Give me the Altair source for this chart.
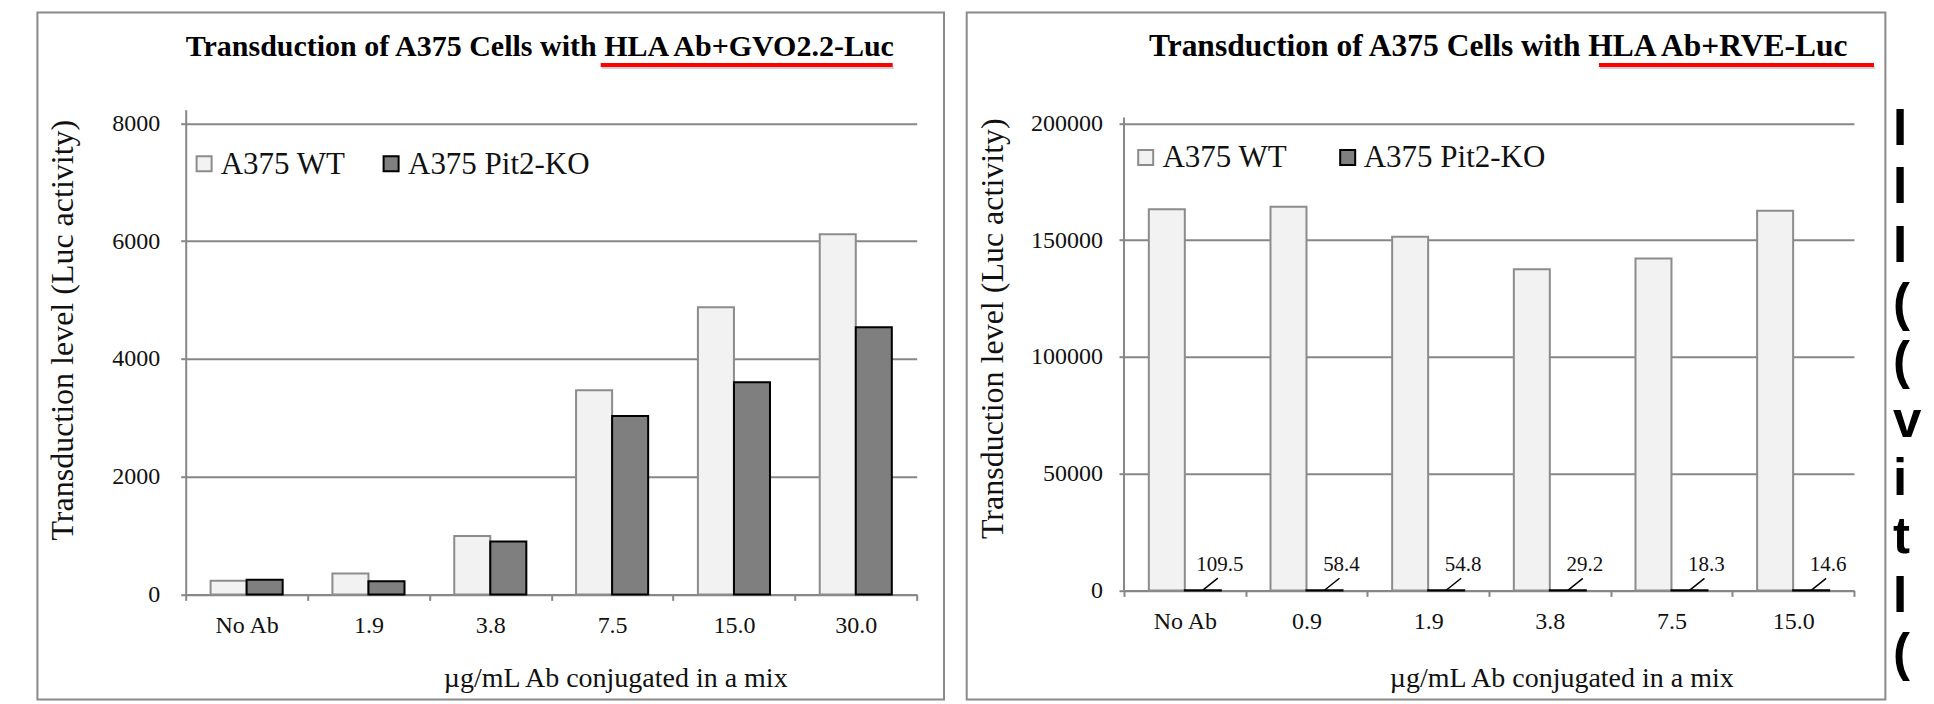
import altair as alt
import pandas as pd

# ---------------- data ----------------
series = ["A375 WT", "A375 Pit2-KO"]

left_categories = ["No Ab", "1.9", "3.8", "7.5", "15.0", "30.0"]
left_wt = [230, 355, 990, 3465, 4875, 6115]
left_ko = [250, 225, 900, 3030, 3605, 4535]
left_y_ticks = [0, 2000, 4000, 6000, 8000]

right_categories = ["No Ab", "0.9", "1.9", "3.8", "7.5", "15.0"]
right_wt = [163200, 164300, 151500, 137500, 142100, 162600]
right_ko = [109.5, 58.4, 54.8, 29.2, 18.3, 14.6]
right_y_ticks = [0, 50000, 100000, 150000, 200000]

left_title = "Transduction of A375 Cells with HLA Ab+GVO2.2-Luc"
right_title = "Transduction of A375 Cells with HLA Ab+RVE-Luc"
y_title = "Transduction level (Luc activity)"
x_title = "µg/mL Ab conjugated in a mix"
edge_fragments = ["I", "I", "I", "(", "(", "v", "i", "t", "I", "("]

# ---------------- styles ----------------
SERIF = "Liberation Serif"
GRID = "#878787"
WT_FILL, WT_STROKE = "#f2f2f2", "#8c8c8c"
KO_FILL, KO_STROKE = "#7f7f7f", "#000000"
TXT = "#111111"


def panel(cats, wt, ko, yticks, ymax, width, height, title, frame, underline,
          title_x, title_size, x_title_pos, y_title_pos, ylab_pad, legend_layout,
          show_labels=False, axis_top=None, extra_text=None):
    df = pd.DataFrame({
        "category": cats * 2,
        "series": [series[0]] * len(cats) + [series[1]] * len(cats),
        "value": wt + ko,
    })
    x_enc = alt.X(
        "category:N", sort=cats,
        scale=alt.Scale(paddingInner=0, paddingOuter=0),
        axis=alt.Axis(
            title=x_title, titleFont=SERIF, titleFontSize=28, titleFontWeight="normal",
            titleColor=TXT, titleX=x_title_pos[0], titleY=x_title_pos[1],
            titleAlign="center", titleBaseline="alphabetic",
            labelAngle=0, labelFont=SERIF, labelFontSize=24, labelColor=TXT,
            labelPadding=32, labelBaseline="alphabetic",
            tickBand="extent", tickSize=6, tickWidth=2, tickColor=GRID,
            domainColor=GRID, domainWidth=2, grid=False,
        ),
    )
    xo_enc = alt.XOffset("series:N", sort=series,
                         scale=alt.Scale(paddingInner=0, paddingOuter=0.69))
    y_enc = alt.Y(
        "value:Q",
        scale=alt.Scale(domain=[0, ymax], nice=False, zero=True),
        axis=alt.Axis(
            values=yticks, format="d",
            title=y_title, titleFont=SERIF, titleFontSize=32, titleFontWeight="normal",
            titleColor=TXT, titleX=y_title_pos[0], titleY=y_title_pos[1],
            titleAlign="center", titleBaseline="alphabetic", titleAngle=270,
            labelFont=SERIF, labelFontSize=24, labelColor=TXT, labelPadding=ylab_pad,
            tickSize=5, tickWidth=2, tickColor=GRID,
            domain=axis_top is None, domainColor=GRID, domainWidth=2,
            grid=True, gridColor=GRID, gridWidth=2,
        ),
    )
    fill_enc = alt.Fill("series:N", sort=series,
                        scale=alt.Scale(domain=series, range=[WT_FILL, KO_FILL]), legend=None)
    stroke_enc = alt.Stroke("series:N", sort=series,
                            scale=alt.Scale(domain=series, range=[WT_STROKE, KO_STROKE]), legend=None)
    bars = alt.Chart(df).mark_bar(strokeWidth=2).encode(
        x=x_enc, xOffset=xo_enc, y=y_enc, fill=fill_enc, stroke=stroke_enc,
    )

    one = alt.Data(values=[{}])
    frame_layer = alt.Chart(one).mark_rect(fillOpacity=0, stroke="#8a8a8a", strokeWidth=2).encode(
        x=alt.value(frame[0]), x2=alt.value(frame[1]),
        y=alt.value(frame[2]), y2=alt.value(frame[3]),
    )
    title_layer = alt.Chart(one).mark_text(
        align="left", baseline="alphabetic", font=SERIF, fontSize=title_size,
        fontWeight="bold", color="black", text=title,
    ).encode(x=alt.value(title_x), y=alt.value(-54))
    shadow_layer = alt.Chart(one).mark_rule(color="#b0b0b0", strokeWidth=3, opacity=0.6).encode(
        x=alt.value(underline[0] + 1), x2=alt.value(underline[1] + 1), y=alt.value(underline[2] + 2.5),
    )
    red_layer = alt.Chart(one).mark_rule(color="#ff0000", strokeWidth=4).encode(
        x=alt.value(underline[0]), x2=alt.value(underline[1]), y=alt.value(underline[2]),
    )
    layers = [frame_layer, bars]
    if axis_top is not None:
        layers.append(alt.Chart(one).mark_rule(color=GRID, strokeWidth=2).encode(
            x=alt.value(0), y=alt.value(axis_top), y2=alt.value(height)))
    if show_labels:
        kdf = df[df["series"] == series[1]]
        leaders = alt.Chart(kdf).mark_point(
            shape="M0,0L1,-0.8", size=900, filled=False, color="black",
            strokeWidth=1.5, opacity=1,
        ).encode(x=alt.X("category:N", sort=cats), xOffset=alt.XOffset("series:N", sort=series),
                 y="value:Q")
        labels = alt.Chart(kdf).mark_text(
            dx=17, dy=-19.5, align="center", baseline="alphabetic", font=SERIF,
            fontSize=21, color=TXT,
        ).encode(x=alt.X("category:N", sort=cats), xOffset=alt.XOffset("series:N", sort=series),
                 y="value:Q", text=alt.Text("value:Q", format=".1f"))
        layers += [leaders, labels]

    # legend (symbol + label for each series)
    sym_xs, lab_xs, sym_y, lab_y = legend_layout
    for i, s in enumerate(series):
        entry = alt.Data(values=[{"series": s}])
        layers.append(alt.Chart(entry).mark_point(
            shape="square", size=225, filled=True, strokeWidth=2, opacity=1,
        ).encode(x=alt.value(sym_xs[i]), y=alt.value(sym_y), fill=fill_enc, stroke=stroke_enc))
        layers.append(alt.Chart(entry).mark_text(
            align="left", baseline="alphabetic", font=SERIF, fontSize=31, color=TXT,
        ).encode(x=alt.value(lab_xs[i]), y=alt.value(lab_y), text="series:N"))

    layers += [title_layer, shadow_layer, red_layer]
    if extra_text is not None:
        layers.append(alt.Chart(one).mark_text(
            align="left", baseline="alphabetic", font="Liberation Sans", fontSize=51,
            fontWeight="bold", color="black", lineHeight=58.3, text=extra_text[2],
        ).encode(x=alt.value(extra_text[0]), y=alt.value(extra_text[1])))
    return alt.layer(*layers).properties(width=width, height=height)


left = panel(
    left_categories, left_wt, left_ko, left_y_ticks, ymax=8232, width=731, height=484.7,
    title=left_title, frame=(-148.3, 758.3, -97.3, 589.7), underline=(415, 707, -44.7),
    title_x=0, title_size=30, x_title_pos=(429.5, 92.6), y_title_pos=(-113.3, 220),
    ylab_pad=21, legend_layout=((18.4, 205.4), (35, 222.3), 54, 64.3),
)
right = panel(
    right_categories, right_wt, right_ko, right_y_ticks, ymax=205867, width=730, height=480.7,
    title=right_title, frame=(-157.3, 761.4, -97.3, 589.7), underline=(475, 750, -44.7),
    title_x=25, title_size=31.5, x_title_pos=(437.3, 96.6), y_title_pos=(-121.6, 218.5),
    ylab_pad=16.6, legend_layout=((21.7, 223.7), (38.4, 239.7), 47.7, 57.5),
    show_labels=True, axis_top=7.7, extra_text=(769, 35.5, edge_fragments),
)

chart = alt.hconcat(left, right, spacing=207.3, bounds="flush").resolve_scale(
    x="independent", y="independent", xOffset="independent",
    fill="independent", stroke="independent",
).properties(
    padding={"left": 27.7, "top": 2.7, "right": 0, "bottom": 0},
    background="white",
).configure(font=SERIF).configure_view(stroke="transparent")

chart.save("out.html", embed_options={"renderer": "svg", "actions": False})
